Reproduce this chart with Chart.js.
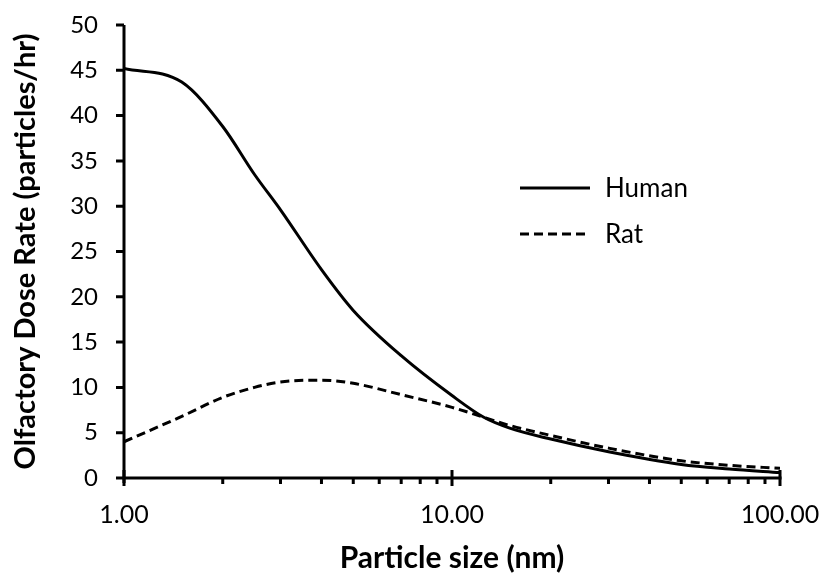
<!DOCTYPE html>
<html>
<head>
<meta charset="utf-8">
<script src="https://cdn.jsdelivr.net/npm/chart.js@4/dist/chart.umd.min.js"></script>
<style>
  html, body { margin: 0; padding: 0; background: #fff; }
  #wrap { width: 822px; height: 573px; }
</style>
</head>
<body>
<div id="wrap"><canvas id="c" width="822" height="573"></canvas></div>
<script>
// Data
const particleSize = [1, 1.5, 2, 2.5, 3, 4, 5, 7, 10, 12.5, 15, 20, 30, 50, 70, 100];
const humanDose    = [45.2, 43.7, 38.8, 33.5, 29.6, 23.0, 18.5, 13.5, 9.1, 6.7, 5.5, 4.3, 2.9, 1.5, 1.0, 0.6];
const ratDose      = [4.0, 6.8, 8.9, 10.0, 10.6, 10.8, 10.45, 9.2, 7.8, 6.7, 5.8, 4.7, 3.3, 1.9, 1.4, 1.07];
const xMajorTicks  = [1, 10, 100];
const yTicks       = [0, 5, 10, 15, 20, 25, 30, 35, 40, 45, 50];
const seriesNames  = ['Human', 'Rat'];

const FONT = 'Lato, "Open Sans", sans-serif';

const toPts = (xs, ys) => xs.map((x, i) => ({ x, y: ys[i] }));

const axesPlugin = {
  id: 'axesPlugin',
  afterDraw(chart) {
    const { ctx, chartArea: a, scales: { x, y } } = chart;
    ctx.save();
    ctx.strokeStyle = '#000';
    ctx.lineWidth = 3;
    ctx.lineCap = 'butt';
    // axis lines
    ctx.beginPath();
    ctx.moveTo(a.left, a.top); ctx.lineTo(a.left, a.bottom + 5);
    ctx.moveTo(a.left - 1.5, a.bottom); ctx.lineTo(a.right + 1.5, a.bottom);
    ctx.stroke();
    // y ticks
    ctx.beginPath();
    yTicks.forEach(v => {
      const py = y.getPixelForValue(v);
      ctx.moveTo(a.left - 8, py); ctx.lineTo(a.left, py);
    });
    ctx.stroke();
    // x ticks (log minor + major)
    ctx.beginPath();
    for (let dec = 1; dec <= 100; dec *= 10) {
      for (let m = 1; m < 10; m++) {
        const v = dec * m;
        if (v > 100) break;
        const px = x.getPixelForValue(v);
        if (m === 1) {
          ctx.moveTo(px, a.bottom - 8); ctx.lineTo(px, a.bottom + 8);
        } else {
          ctx.moveTo(px, a.bottom); ctx.lineTo(px, a.bottom + 6);
        }
      }
    }
    ctx.stroke();
    // legend
    ctx.font = '26px ' + FONT;
    ctx.fillStyle = '#000';
    ctx.textBaseline = 'middle';
    ctx.textAlign = 'left';
    const lx0 = 520, lx1 = 590, ly = [188, 234];
    chart.data.datasets.forEach((ds, i) => {
      ctx.beginPath();
      ctx.lineWidth = 3;
      ctx.setLineDash(ds.borderDash || []);
      ctx.moveTo(lx0, ly[i]); ctx.lineTo(lx1, ly[i]);
      ctx.stroke();
      ctx.setLineDash([]);
      ctx.fillText(ds.label, 605, ly[i] + 1);
    });
    ctx.restore();
  }
};

new Chart(document.getElementById('c'), {
  type: 'scatter',
  data: {
    datasets: [
      {
        label: seriesNames[0],
        data: toPts(particleSize, humanDose),
        showLine: true,
        borderColor: '#000',
        borderWidth: 3,
        pointRadius: 0,
        cubicInterpolationMode: 'monotone',
        fill: false
      },
      {
        label: seriesNames[1],
        data: toPts(particleSize, ratDose),
        showLine: true,
        borderColor: '#000',
        borderWidth: 3,
        borderDash: [9, 5],
        pointRadius: 0,
        cubicInterpolationMode: 'monotone',
        fill: false
      }
    ]
  },
  options: {
    responsive: false,
    animation: false,
    devicePixelRatio: 1,
    layout: { padding: { left: 0, right: 42, top: 25, bottom: 0 } },
    plugins: { legend: { display: false }, tooltip: { enabled: false } },
    scales: {
      x: {
        type: 'logarithmic',
        min: 1, max: 100,
        afterBuildTicks(s) { s.ticks = xMajorTicks.map(v => ({ value: v, major: true })); },
        afterFit(s) { s.height = 95; s.paddingLeft = 0; s.paddingRight = 0; },
        grid: { display: false, drawTicks: false },
        border: { display: false },
        ticks: {
          color: '#000',
          font: { family: FONT, size: 25 },
          padding: 22,
          maxRotation: 0,
          autoSkip: false,
          callback: v => Number(v).toFixed(2)
        },
        title: {
          display: true,
          text: 'Particle size (nm)',
          color: '#000',
          font: { family: FONT, size: 30, weight: 'bold', lineHeight: 1 },
          padding: { top: 0, bottom: 0 }
        }
      },
      y: {
        min: 0, max: 50,
        afterBuildTicks(s) { s.ticks = yTicks.map(v => ({ value: v })); },
        afterFit(s) { s.width = 124; s.paddingTop = 0; s.paddingBottom = 0; },
        grid: { display: false, drawTicks: false },
        border: { display: false },
        ticks: {
          color: '#000',
          font: { family: FONT, size: 24 },
          padding: 26
        },
        title: {
          display: true,
          text: 'Olfactory Dose Rate (particles/hr)',
          color: '#000',
          font: { family: FONT, size: 29, weight: 'bold', lineHeight: 1 },
          padding: { top: 11, bottom: 0 }
        }
      }
    }
  },
  plugins: [axesPlugin]
});
</script>
</body>
</html>
